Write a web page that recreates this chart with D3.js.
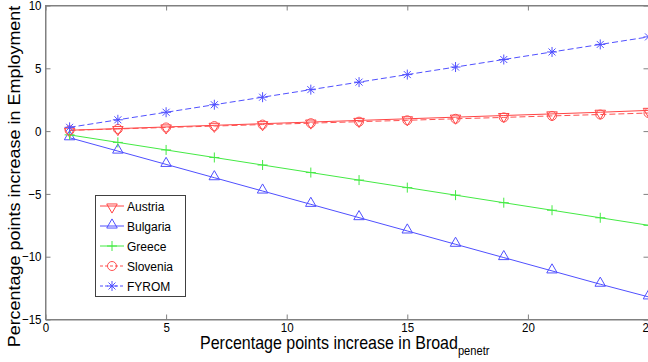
<!DOCTYPE html>
<html>
<head>
<meta charset="utf-8">
<script src="https://cdn.jsdelivr.net/npm/d3@7"></script>
<style>
  html, body { margin: 0; padding: 0; background: #fff; }
  svg { display: block; font-family: "Liberation Sans", Arial, sans-serif; }
</style>
</head>
<body>
<div id="chart"></div>
<script>
// data
const broadIncrease = [1, 3, 5, 7, 9, 11, 13, 15, 17, 19, 21, 23, 25];
const austria  = [0.07, 0.2, 0.33, 0.46, 0.59, 0.72, 0.85, 0.98, 1.11, 1.24, 1.37, 1.5, 1.65];
const bulgaria = [-0.53, -1.59, -2.65, -3.71, -4.77, -5.83, -6.89, -7.95, -9.01, -10.07, -11.13, -12.19, -13.2];
const greece   = [-0.3, -0.9, -1.5, -2.1, -2.7, -3.3, -3.9, -4.5, -5.1, -5.7, -6.3, -6.9, -7.5];
const slovenia = [0.06, 0.17, 0.29, 0.4, 0.52, 0.63, 0.75, 0.86, 0.98, 1.09, 1.21, 1.32, 1.44];
const fyrom    = [0.3, 0.9, 1.5, 2.1, 2.7, 3.3, 3.9, 4.5, 5.1, 5.7, 6.3, 6.9, 7.5];
const xTicks = [0, 5, 10, 15, 20, 25];
const yTicks = [-15, -10, -5, 0, 5, 10];

const series = [
    { name: "Austria",  values: austria,  color: "#ff4545", dash: null,  marker: "tridown" },
    { name: "Bulgaria", values: bulgaria, color: "#5050ff", dash: null,  marker: "triup" },
    { name: "Greece",   values: greece,   color: "#44ea44", dash: null,  marker: "plus" },
    { name: "Slovenia", values: slovenia, color: "#ff5050", dash: "6,3", marker: "circle" },
    { name: "FYROM",    values: fyrom,    color: "#5050ff", dash: "6,3", marker: "star" }
];

//Setup Dimensions
const width = 648;
const height = 362;
const plotLeft = 45.5, plotRight = 648.5, plotTop = 5.5, plotBottom = 319.5;
// the picture is squeezed a little horizontally, so text is too
const squeeze = "scale(0.89,1)";

const svg = d3.select("#chart")
    .append("svg")
    .attr("width", width)
    .attr("height", height);

const x = d3.scaleLinear().domain([0, 25]).range([plotLeft, plotRight]);
const y = d3.scaleLinear().domain([-15, 10]).range([plotBottom, plotTop]);

//Axes box (MATLAB style, ticks inside)
const axisColor = "#808080";
svg.append("rect")
    .attr("x", plotLeft).attr("y", plotTop)
    .attr("width", plotRight - plotLeft).attr("height", plotBottom - plotTop)
    .attr("fill", "none").attr("stroke", axisColor);

const xAxis = svg.append("g").attr("transform", `translate(0,${plotBottom})`)
    .call(d3.axisBottom(x).tickValues(xTicks).tickSizeInner(-5).tickSizeOuter(0).tickPadding(3.5));
const xAxisTop = svg.append("g").attr("transform", `translate(0,${plotTop})`)
    .call(d3.axisTop(x).tickValues(xTicks).tickSizeInner(-5).tickSizeOuter(0).tickFormat(""));
const yAxis = svg.append("g").attr("transform", `translate(${plotLeft},0)`)
    .call(d3.axisLeft(y).tickValues(yTicks).tickSizeInner(-5).tickSizeOuter(0).tickPadding(4.5));
const yAxisRight = svg.append("g").attr("transform", `translate(${plotRight},0)`)
    .call(d3.axisRight(y).tickValues(yTicks).tickSizeInner(-5).tickSizeOuter(0).tickFormat(""));

[xAxis, xAxisTop, yAxis, yAxisRight].forEach(a => {
    a.select(".domain").attr("stroke", axisColor);
    a.selectAll(".tick line").attr("stroke", axisColor);
    a.selectAll(".tick text").attr("fill", "#000").style("font-size", "13px")
        .style("font-family", "'Liberation Sans', Arial, sans-serif")
        .attr("transform", squeeze);
});

//Marker drawing
function drawMarker(g, type, color) {
    if (type === "tridown" || type === "triup") {
        g.append("path")
            .attr("d", d3.symbol().type(d3.symbolTriangle).size(48)())
            .attr("transform", type === "tridown" ? "rotate(180) translate(0,-1)" : "translate(0,-1)")
            .attr("fill", "none").attr("stroke", color);
    } else if (type === "plus") {
        g.append("path").attr("d", "M-5,0H5M0,-5V5").attr("stroke", color);
    } else if (type === "circle") {
        g.append("circle").attr("r", 4.5).attr("fill", "none").attr("stroke", color);
    } else if (type === "star") {
        g.append("path").attr("d", "M-5,0H5M0,-5V5M-3.5,-3.5L3.5,3.5M-3.5,3.5L3.5,-3.5").attr("stroke", color);
    }
}

//Lines
const line = d3.line()
    .x((d, i) => x(broadIncrease[i]))
    .y(d => y(d));

const plot = svg.append("g");
series.forEach(s => {
    plot.append("path")
        .datum(s.values)
        .attr("d", line)
        .attr("fill", "none")
        .attr("stroke", s.color)
        .attr("stroke-width", 1)
        .attr("stroke-dasharray", s.dash);
    plot.selectAll(null)
        .data(s.values)
        .enter().append("g")
        .attr("transform", (d, i) => `translate(${x(broadIncrease[i])},${y(d)})`)
        .each(function () { drawMarker(d3.select(this), s.marker, s.color); });
});

//Legend
const legend = svg.append("g").attr("transform", "translate(95,195)");
legend.append("rect")
    .attr("x", 0.5).attr("y", 0.5).attr("width", 90).attr("height", 101)
    .attr("fill", "#fff").attr("stroke", "#404040");
series.forEach((s, i) => {
    const row = legend.append("g").attr("transform", `translate(0,${11 + i * 20})`);
    row.append("line")
        .attr("x1", 5).attr("x2", 29).attr("y1", 0).attr("y2", 0)
        .attr("stroke", s.color)
        .attr("stroke-dasharray", s.dash ? "3,2" : null);
    drawMarker(row.append("g").attr("transform", "translate(17,0)"), s.marker, s.color);
    row.append("g").attr("transform", "translate(32,5)")
        .append("text")
        .attr("transform", squeeze)
        .style("font-size", "13.5px")
        .text(s.name);
});

//Axis labels
const xLabel = svg.append("g").attr("transform", "translate(200,349)")
    .append("text")
    .attr("transform", squeeze)
    .style("font-size", "18px");
xLabel.append("tspan").text("Percentage points increase in Broad");
xLabel.append("tspan").attr("dy", 6).style("font-size", "12.5px").text("penetr");

svg.append("text")
    .attr("transform", `translate(20,176.5) rotate(-90) scale(1,0.89)`)
    .attr("text-anchor", "middle")
    .style("font-size", "18px")
    .text("Percentage points increase in Employment");
</script>
</body>
</html>
